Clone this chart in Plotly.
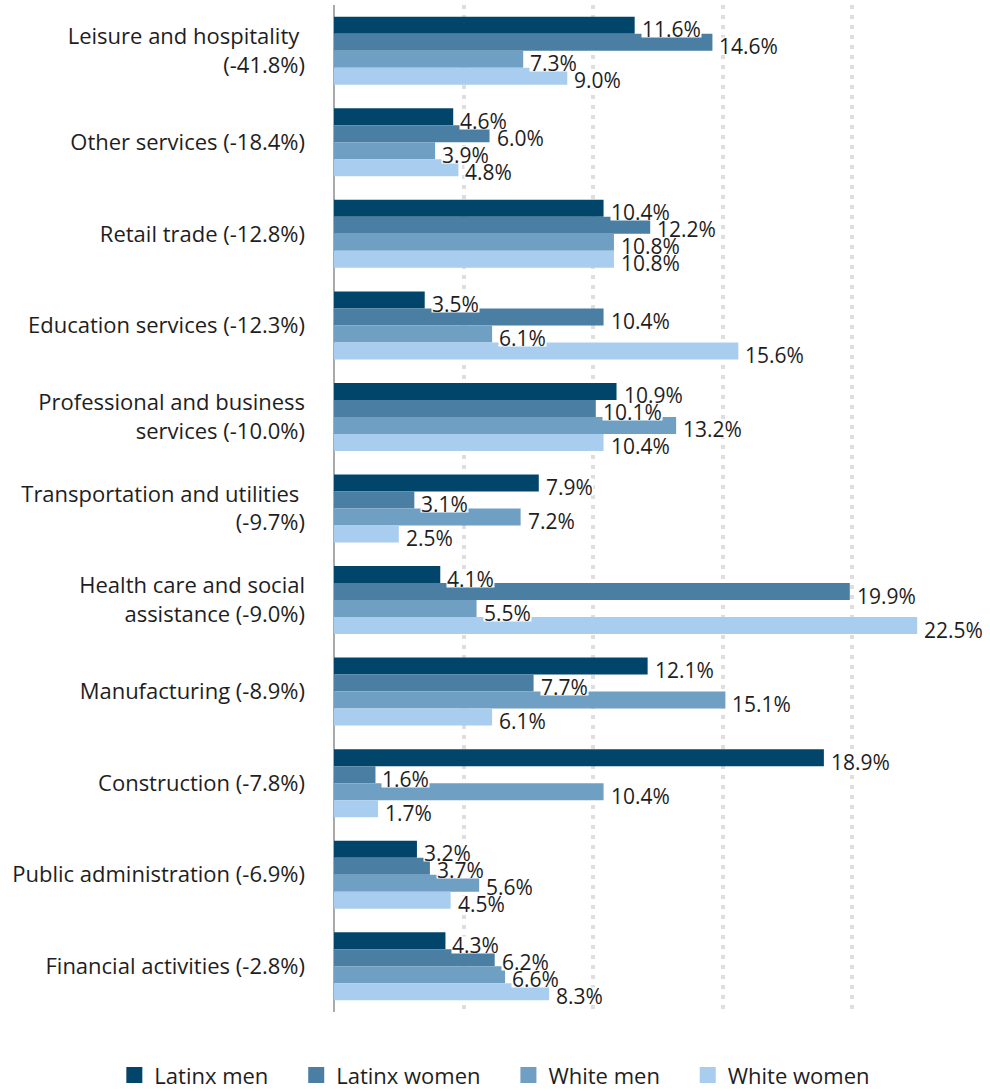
import plotly.graph_objects as go

categories = [
    "Leisure and hospitality <br>(-41.8%)",
    "Other services (-18.4%)",
    "Retail trade (-12.8%)",
    "Education services (-12.3%)",
    "Professional and business<br>services (-10.0%)",
    "Transportation and utilities <br>(-9.7%)",
    "Health care and social<br>assistance (-9.0%)",
    "Manufacturing (-8.9%)",
    "Construction (-7.8%)",
    "Public administration (-6.9%)",
    "Financial activities (-2.8%)",
]
series_names = ["Latinx men", "Latinx women", "White men", "White women"]
latinx_men = [11.6, 4.6, 10.4, 3.5, 10.9, 7.9, 4.1, 12.1, 18.9, 3.2, 4.3]
latinx_women = [14.6, 6.0, 12.2, 10.4, 10.1, 3.1, 19.9, 7.7, 1.6, 3.7, 6.2]
white_men = [7.3, 3.9, 10.8, 6.1, 13.2, 7.2, 5.5, 15.1, 10.4, 5.6, 6.6]
white_women = [9.0, 4.8, 10.8, 15.6, 10.4, 2.5, 22.5, 6.1, 1.7, 4.5, 8.3]
series_values = [latinx_men, latinx_women, white_men, white_women]
colors = ["#01466A", "#4A7FA3", "#6F9FC3", "#A9CDEE"]

FONT = "'Open Sans', Lato, sans-serif"
TXT = "#1E1E1E"
NB = "\u00a0"

fig = go.Figure()
for name, vals, col in zip(series_names, series_values, colors):
    fig.add_trace(go.Bar(
        y=categories, x=vals, name=name, orientation="h",
        marker=dict(color=col, line=dict(width=0)),
        hoverinfo="x+name", showlegend=False,
    ))
# legend swatches (square markers)
for name, col in zip(series_names, colors):
    fig.add_trace(go.Scatter(
        x=[None], y=[None], mode="markers", name=name + NB * 4,
        marker=dict(symbol="square", size=22, color=col),
        showlegend=True, hoverinfo="skip",
    ))

# value labels with tight white background, positioned via data coords
bar_px = 17
yshifts = [1.5 * bar_px - 4, 0.5 * bar_px - 4, -0.5 * bar_px - 4, -1.5 * bar_px - 4]
annotations = []
for vals, ys in zip(series_values, yshifts):
    for cat, v in zip(categories, vals):
        annotations.append(dict(
            x=v, y=cat, xref="x", yref="y", text=f"{v:.1f}%",
            showarrow=False, xanchor="left", yanchor="middle",
            xshift=6, yshift=ys, bgcolor="white", borderpad=0,
            height=16, valign="middle",
            font=dict(family=FONT, size=21, color=TXT),
        ))

fig.update_layout(
    width=990, height=1091,
    barmode="group", bargap=0.257, bargroupgap=0,
    plot_bgcolor="white", paper_bgcolor="white",
    margin=dict(l=334, r=8, t=5, b=79, autoexpand=False),
    font=dict(family=FONT, size=22, color=TXT),
    annotations=annotations,
    showlegend=True,
    legend=dict(
        orientation="h", xref="paper", yref="paper",
        x=-0.339, xanchor="left", y=-0.042, yanchor="top",
        font=dict(family=FONT, size=22, color=TXT),
        traceorder="normal",
    ),
)
fig.update_xaxes(
    range=[0, 25], tickvals=[0, 5, 10, 15, 20, 25], showticklabels=False,
    showgrid=True, gridcolor="#DEDEDE", gridwidth=4, griddash="4px,6px",
    zeroline=True, zerolinecolor="#AAAAAA", zerolinewidth=2,
    showline=False, fixedrange=True, automargin=False,
)
fig.update_yaxes(
    autorange="reversed", showgrid=False, showline=False, ticks="",
    ticklabelstandoff=28, automargin=False,
    tickfont=dict(family=FONT, size=22, color=TXT),
)

fig.write_html(
    "out.html",
    config={"displayModeBar": False},
    post_script="document.body.style.margin='0';document.body.style.padding='0';",
)
